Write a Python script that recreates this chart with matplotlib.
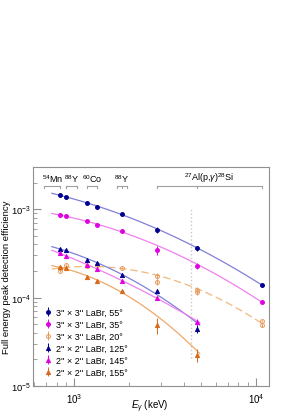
import numpy as np
import matplotlib
matplotlib.use("Agg")
import matplotlib.pyplot as plt

plt.rcParams['font.family'] = ['Liberation Sans', 'DejaVu Sans']
plt.rcParams['mathtext.fontset'] = 'custom'
plt.rcParams['mathtext.rm'] = 'Liberation Sans'
plt.rcParams['mathtext.it'] = 'Liberation Sans:italic'
plt.rcParams['font.size'] = 7

# gamma energies (keV)
e_all = [835, 898, 1173, 1332, 1836, 2838, 4742, 10762]
e_small = [835, 898, 1173, 1332, 1836, 2838, 4742]
e_20 = [835, 835, 898, 1173, 1332, 1836, 2838, 2838, 4742, 4742, 10762, 10762]

# efficiencies
eff_55 = [1.45e-3, 1.36e-3, 1.18e-3, 1.07e-3, 8.8e-4, 5.8e-4, 3.6e-4, 1.39e-4]
eff_35 = [8.55e-4, 8.35e-4, 7.3e-4, 6.6e-4, 5.7e-4, 3.42e-4, 2.26e-4, 8.9e-5]
eff_20 = [2.15e-4, 2.0e-4, 2.33e-4, 2.25e-4, 2.35e-4, 2.15e-4, 1.77e-4, 1.49e-4,
          1.22e-4, 1.15e-4, 5.45e-5, 4.85e-5]
eff_125 = [3.55e-4, 3.45e-4, 2.68e-4, 2.45e-4, 1.82e-4, 1.18e-4, 4.45e-5]
eff_145 = [3.2e-4, 2.93e-4, 2.35e-4, 2.1e-4, 1.56e-4, 9.9e-5, 5.35e-5]
eff_155 = [2.2e-4, 2.15e-4, 1.7e-4, 1.55e-4, 1.18e-4, 4.85e-5, 2.26e-5]

# relative errors
rel_55 = [0.03, 0.03, 0.03, 0.03, 0.03, 0.08, 0.06, 0.03]
rel_35 = [0.03, 0.03, 0.03, 0.03, 0.03, 0.11, 0.08, 0.03]
rel_20 = [0.03, 0.03, 0.03, 0.03, 0.03, 0.03, 0.08, 0.08, 0.08, 0.08, 0.03, 0.03]
rel_125 = [0.03, 0.03, 0.03, 0.03, 0.03, 0.05, 0.10]
rel_145 = [0.03, 0.03, 0.03, 0.03, 0.03, 0.05, 0.08]
rel_155 = [0.03, 0.03, 0.03, 0.03, 0.03, 0.21, 0.17]

labels = ["3'' × 3'' LaBr, 55°", "3'' × 3'' LaBr, 35°", "3'' × 3'' LaBr, 20°",
          "2'' × 2'' LaBr, 125°", "2'' × 2'' LaBr, 145°", "2'' × 2'' LaBr, 155°"]

# source labels and bracket ranges
src_names = ["$^{54}$Mn", "$^{88}$Y", "$^{60}$Co", "$^{88}$Y", "$^{27}$Al(p,$\\gamma$)$^{28}$Si"]
src_lo = [680, 898, 1173, 1710, 2838]
src_hi = [835, 1030, 1332, 1950, 10762]
src_mid = [None, None, None, 1836, 4742]

series = [
    (e_all, eff_55, rel_55, 'o', '#000090', '#000090', '#8080d8', '-', 10762),
    (e_all, eff_35, rel_35, 'o', '#e000e0', '#e000e0', '#f080f0', '-', 10762),
    (e_20, eff_20, rel_20, 'o', 'none', '#e89858', '#f0b880', (0, (6, 3)), 10762),
    (e_small, eff_125, rel_125, '^', '#000090', '#000090', '#8080d8', '-', 4900),
    (e_small, eff_145, rel_145, '^', '#e000e0', '#e000e0', '#f080f0', '-', 4900),
    (e_small, eff_155, rel_155, '^', '#d86818', '#d86818', '#f0a868', '-', 4900),
]

fig = plt.figure(figsize=(2.99, 4.14), dpi=100)
ax = fig.add_axes([0.110, 0.0652, 0.790, 0.529])

handles = []
for (ex, ey, rel, mk, fc, ec, lc, ls, emax), lab in zip(series, labels):
    ex = np.array(ex, float)
    ey = np.array(ey, float)
    rel = np.array(rel, float)
    # weighted log-log quadratic fit of the measured points
    p = np.polyfit(np.log(ex), np.log(ey), 2, w=1 / rel)
    xf = np.geomspace(750, emax, 200)
    ax.plot(xf, np.exp(np.polyval(p, np.log(xf))), color=lc, lw=0.9, ls=ls, zorder=2)
    h = ax.errorbar(ex, ey, yerr=ey * rel, fmt=mk, ms=2.8 if mk == 'o' else 3.0,
                    mfc=fc, mec=ec, mew=0.7, ecolor=ec, elinewidth=0.7, capsize=0,
                    label=lab, zorder=3)
    handles.append(h)

ax.plot([4400, 4400], [2.07e-5, 1.0e-3], color='#c8c8c8', ls=':', lw=1.0, zorder=1)

# source brackets
yb = 1.82e-3
yt = 1.72e-3
for name, lo, hi, mid in zip(src_names, src_lo, src_hi, src_mid):
    ax.plot([lo, hi], [yb, yb], color='#a0a0a0', lw=0.8)
    for xt in [lo, hi] + ([mid] if mid else []):
        ax.plot([xt, xt], [yb, yt], color='#a0a0a0', lw=0.8)
    ax.text(np.sqrt(lo * hi), 1.93e-3, name, ha='center', va='bottom', fontsize=6.5)

ax.set_xscale('log')
ax.set_yscale('log')
ax.set_xlim(590, 11800)
ax.set_ylim(1e-5, 3e-3)
for s in ax.spines.values():
    s.set_color('#909090')
    s.set_linewidth(0.8)
ax.tick_params(which='both', direction='in', top=False, right=False, color='#909090', labelsize=7)
ax.tick_params(which='major', length=6)
ax.tick_params(which='minor', length=3)
ax.tick_params(axis='x', pad=4)
ax.tick_params(axis='y', pad=1.5, labelsize=6.8)
ax.set_xlabel('$E_{\\gamma}$ (keV)', fontsize=7)
ax.set_ylabel('Full energy peak detection efficiency', fontsize=6.8)
ax.xaxis.set_label_coords(0.496, -0.054)
ax.yaxis.set_label_coords(-0.094, 0.5)

ax.legend(handles=handles, loc='upper left', bbox_to_anchor=(0.135, 0.265), bbox_transform=fig.transFigure,
          frameon=False, fontsize=6.5, handlelength=0.8, handletextpad=0.4, labelspacing=0.33,
          borderpad=0)

fig.savefig('out.png', dpi=100)
